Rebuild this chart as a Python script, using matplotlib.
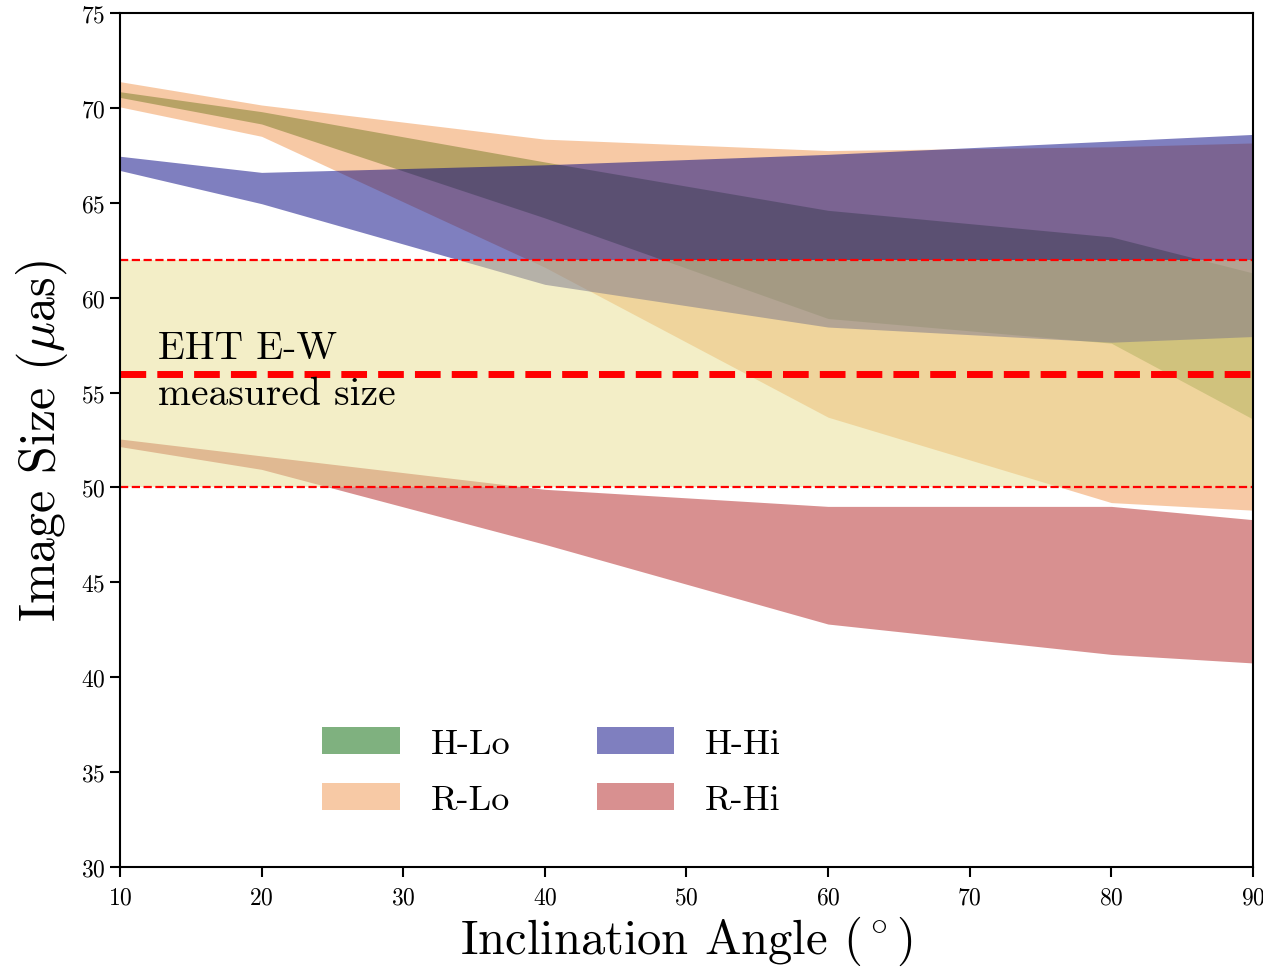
import matplotlib
matplotlib.use("Agg")
import matplotlib.pyplot as plt

plt.rcParams['font.family'] = 'serif'
plt.rcParams['font.serif'] = ['cmr10']
plt.rcParams['mathtext.fontset'] = 'cm'
plt.rcParams['axes.formatter.use_mathtext'] = True

# Inclination angles (deg)
incl = [10, 20, 40, 60, 80, 90]

# Image size bands (micro-arcsec): lower / upper envelopes
hlo_low = [70.55, 69.15, 64.2, 58.9, 57.6, 53.6]
hlo_high = [70.85, 69.8, 67.15, 64.6, 63.2, 61.3]

rlo_low = [70.05, 68.5, 61.6, 53.7, 49.2, 48.8]
rlo_high = [71.38, 70.15, 68.35, 67.75, 67.95, 68.15]

hhi_low = [66.7, 64.95, 60.7, 58.45, 57.65, 57.95]
hhi_high = [67.45, 66.6, 67.0, 67.55, 68.25, 68.6]

rhi_low = [52.15, 50.95, 47.0, 42.8, 41.2, 40.75]
rhi_high = [52.55, 51.66, 49.9, 49.0, 49.0, 48.3]

eht_size = 56.0
eht_low = 50.0
eht_high = 62.0

labels = ['H-Lo', 'R-Lo', 'H-Hi', 'R-Hi']
colors = ['darkgreen', (0.94, 0.58, 0.30), 'navy', 'firebrick']

fig = plt.figure(figsize=(12.63, 9.70), dpi=100)
ax = fig.add_axes([0.095, 0.1052, 0.897, 0.8804])

bands = [(hlo_low, hlo_high), (rlo_low, rlo_high), (hhi_low, hhi_high), (rhi_low, rhi_high)]
handles = []
for (lo, hi), lab, c in zip(bands, labels, colors):
    h = ax.fill_between(incl, lo, hi, color=c, alpha=0.5, lw=0, label=lab)
    handles.append(h)

ax.axhspan(eht_low, eht_high, color=(0.91, 0.88, 0.58), alpha=0.52, lw=0)
ax.axhline(eht_high, color='red', ls='--', lw=1.6)
ax.axhline(eht_low, color='red', ls='--', lw=1.6)
ax.axhline(eht_size, color='red', ls='--', lw=5)

ax.text(12.7, 56.8, 'EHT E-W', fontsize=28.5, va='baseline', ha='left')
ax.text(12.7, 54.4, 'measured size', fontsize=28.5, va='baseline', ha='left')

ax.set_xlim(10, 90)
ax.set_ylim(30, 75)
ax.set_xticks([10, 20, 30, 40, 50, 60, 70, 80, 90])
ax.set_yticks([30, 35, 40, 45, 50, 55, 60, 65, 70, 75])
ax.tick_params(labelsize=17, length=7, width=1.5, direction='out')
ax.tick_params(axis='x', pad=7)
for s in ax.spines.values():
    s.set_linewidth(1.5)

ax.set_xlabel(r'Inclination Angle $(^\circ)$', fontsize=35, labelpad=4)
ax.set_ylabel(r'Image Size ($\mu$as)', fontsize=36, labelpad=8)

ax.legend(handles=handles, loc='center', bbox_to_anchor=(0.381, 0.112), ncol=2,
          frameon=False, fontsize=26, handlelength=2.15, handleheight=0.78,
          handletextpad=0.85, columnspacing=2.4, labelspacing=0.62)

fig.savefig('out.png', dpi=100)
